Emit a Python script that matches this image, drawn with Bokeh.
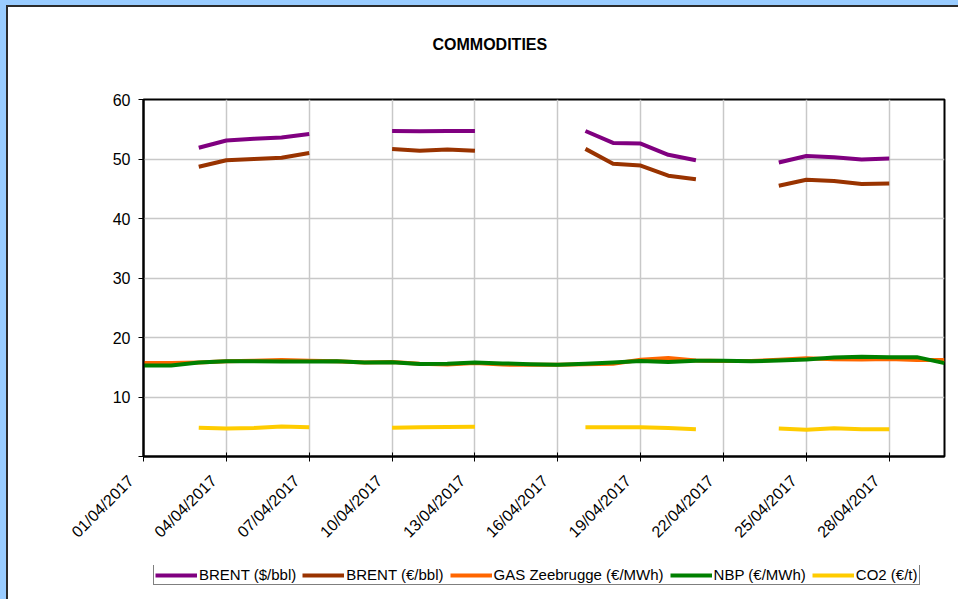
import numpy as np
import pandas as pd
from bokeh.plotting import figure
from bokeh.layouts import column
from bokeh.models import (ColumnDataSource, Range1d, FixedTicker, DatetimeTickFormatter,
                          Legend, LegendItem, Title)
from bokeh.embed import file_html
from bokeh.resources import INLINE

nan = np.nan
dates = pd.date_range("2017-04-01", "2017-04-30", freq="D")
tick_dates = pd.to_datetime(["2017-04-01", "2017-04-04", "2017-04-07", "2017-04-10", "2017-04-13",
                             "2017-04-16", "2017-04-19", "2017-04-22", "2017-04-25", "2017-04-28"])

brent_usd = [nan, nan, 51.9, 53.1, 53.4, 53.6, 54.2, nan, nan, 54.7,
             54.65, 54.7, 54.7, nan, nan, nan, 54.7, 52.7, 52.6, 50.7,
             49.8, nan, nan, 49.4, 50.5, 50.3, 49.9, 50.1, nan, nan]
brent_eur = [nan, nan, 48.7, 49.8, 50.0, 50.2, 51.0, nan, nan, 51.7,
             51.4, 51.6, 51.4, nan, nan, nan, 51.7, 49.2, 48.9, 47.2,
             46.6, nan, nan, 45.5, 46.5, 46.3, 45.8, 45.9, nan, nan]
gas_zee = [15.7, 15.7, 15.8, 16.0, 16.1, 16.2, 16.1, 16.0, 15.8, 15.9,
           15.6, 15.45, 15.7, 15.45, 15.4, 15.4, 15.5, 15.6, 16.25, 16.55,
           16.15, 16.05, 16.05, 16.25, 16.5, 16.35, 16.3, 16.4, 16.2, 16.2]
nbp = [15.3, 15.3, 15.8, 16.0, 16.0, 15.95, 15.95, 16.0, 15.8, 15.85,
       15.55, 15.6, 15.8, 15.65, 15.5, 15.4, 15.6, 15.8, 16.05, 15.9,
       16.1, 16.1, 16.0, 16.15, 16.3, 16.65, 16.75, 16.7, 16.7, 15.7]
co2 = [nan, nan, 4.85, 4.7, 4.8, 5.05, 4.9, nan, nan, 4.85,
       4.9, 4.95, 5.0, nan, nan, nan, 4.9, 4.9, 4.9, 4.8,
       4.6, nan, nan, 4.7, 4.5, 4.75, 4.6, 4.6, nan, nan]

series_names = ["BRENT ($/bbl)", "BRENT (€/bbl)", "GAS Zeebrugge (€/MWh)", "NBP (€/MWh)", "CO2 (€/t)"]
series_cols = ["brent_usd", "brent_eur", "gas_zee", "nbp", "co2"]
series_colors = ["#800080", "#993300", "#FF6600", "#008000", "#FFCC00"]
y_ticks = [0, 10, 20, 30, 40, 50, 60]

src = ColumnDataSource(dict(date=dates, brent_usd=brent_usd, brent_eur=brent_eur,
                            gas_zee=gas_zee, nbp=nbp, co2=co2))

FONT = "Liberation Sans"

# ---------------- main chart ----------------
p = figure(x_axis_type="datetime", output_backend="svg", toolbar_location=None,
           width=958, height=565,
           min_border_left=143, min_border_right=14, min_border_top=99, min_border_bottom=109,
           x_range=Range1d(dates[0], dates[-1]), y_range=Range1d(0, 60))
p.border_fill_color = None
p.background_fill_color = "white"
p.outline_line_color = "black"
p.outline_line_width = 2
p.styles = {"background-color": "white",
            "box-shadow": "inset 6px 5px 0 0 #99CCFF, inset 8px 7px 0 0 #2b2b2b"}

renderers = []
for col, color in zip(series_cols, series_colors):
    r = p.line("date", col, source=src, line_color=color, line_width=4, line_join="round")
    renderers.append(r)

xt = FixedTicker(ticks=[d.value / 1e6 for d in tick_dates])
p.xaxis.ticker = xt
p.xgrid.ticker = xt
fmt = "%d/%m/%Y\u00a0\u00a0\u00a0\u00a0"
p.xaxis.formatter = DatetimeTickFormatter(microseconds=fmt, milliseconds=fmt, seconds=fmt,
                                          minsec=fmt, minutes=fmt, hourmin=fmt, hours=fmt,
                                          days=fmt, months=fmt, years=fmt)
p.xaxis.major_label_orientation = np.pi / 4
p.yaxis.ticker = FixedTicker(ticks=y_ticks)
p.yaxis.major_label_overrides = {0: ""}
for ax in (p.xaxis, p.yaxis):
    ax.axis_line_color = "black"
    ax.axis_line_width = 2
    ax.major_tick_line_color = "black"
    ax.major_tick_line_width = 1
    ax.minor_tick_line_color = None
    ax.major_label_text_font = FONT
    ax.major_label_text_color = "black"
p.xaxis.major_tick_in = 4
p.xaxis.major_tick_out = 5
p.xaxis.major_label_text_font_size = "16px"
p.xaxis.major_label_standoff = 4
p.yaxis.major_tick_in = 0
p.yaxis.major_tick_out = 5
p.yaxis.major_label_text_font_size = "16px"
p.yaxis.major_label_standoff = 8
p.grid.grid_line_color = "#C8C8C8"
p.grid.grid_line_width = 1.5

spacer = Title(text=" ", text_font_size="20px", standoff=23)
p.add_layout(spacer, "above")
p.title.text = "COMMODITIES"
p.title.align = "left"
p.title.offset = 289
p.title.standoff = 0
p.title.text_font = FONT
p.title.text_font_style = "bold"
p.title.text_font_size = "16px"
p.title.text_color = "black"

# ---------------- legend strip ----------------
pl = figure(output_backend="svg", toolbar_location=None, width=958, height=34,
            min_border_left=143, min_border_right=14, min_border_top=0, min_border_bottom=0,
            x_axis_location=None, y_axis_location=None,
            x_range=Range1d(0, 1), y_range=Range1d(0, 1))
pl.grid.visible = False
pl.outline_line_color = None
pl.border_fill_color = None
pl.background_fill_color = None
pl.styles = {"background-color": "white",
             "box-shadow": "inset 6px 0 0 0 #99CCFF, inset 8px 0 0 0 #2b2b2b"}

leg_renderers = []
for col, color in zip(series_cols, series_colors):
    # same series, far outside this strip's ranges: only their legend glyphs show
    r = pl.line("date", col, source=src, line_color=color, line_width=4)
    leg_renderers.append(r)

legend = Legend(items=[LegendItem(label=n, renderers=[r]) for n, r in zip(series_names, leg_renderers)],
                orientation="horizontal", location=(10, 14),
                border_line_color="black", border_line_width=1, background_fill_color="white",
                background_fill_alpha=1.0, padding=1, spacing=6, margin=0,
                glyph_width=42, glyph_height=14, label_standoff=2, label_height=14,
                label_text_font=FONT, label_text_font_size="15px", label_text_color="black")
pl.add_layout(legend)

layout = column(p, pl, spacing=0)
open("out.html", "w").write(file_html(layout, INLINE))
